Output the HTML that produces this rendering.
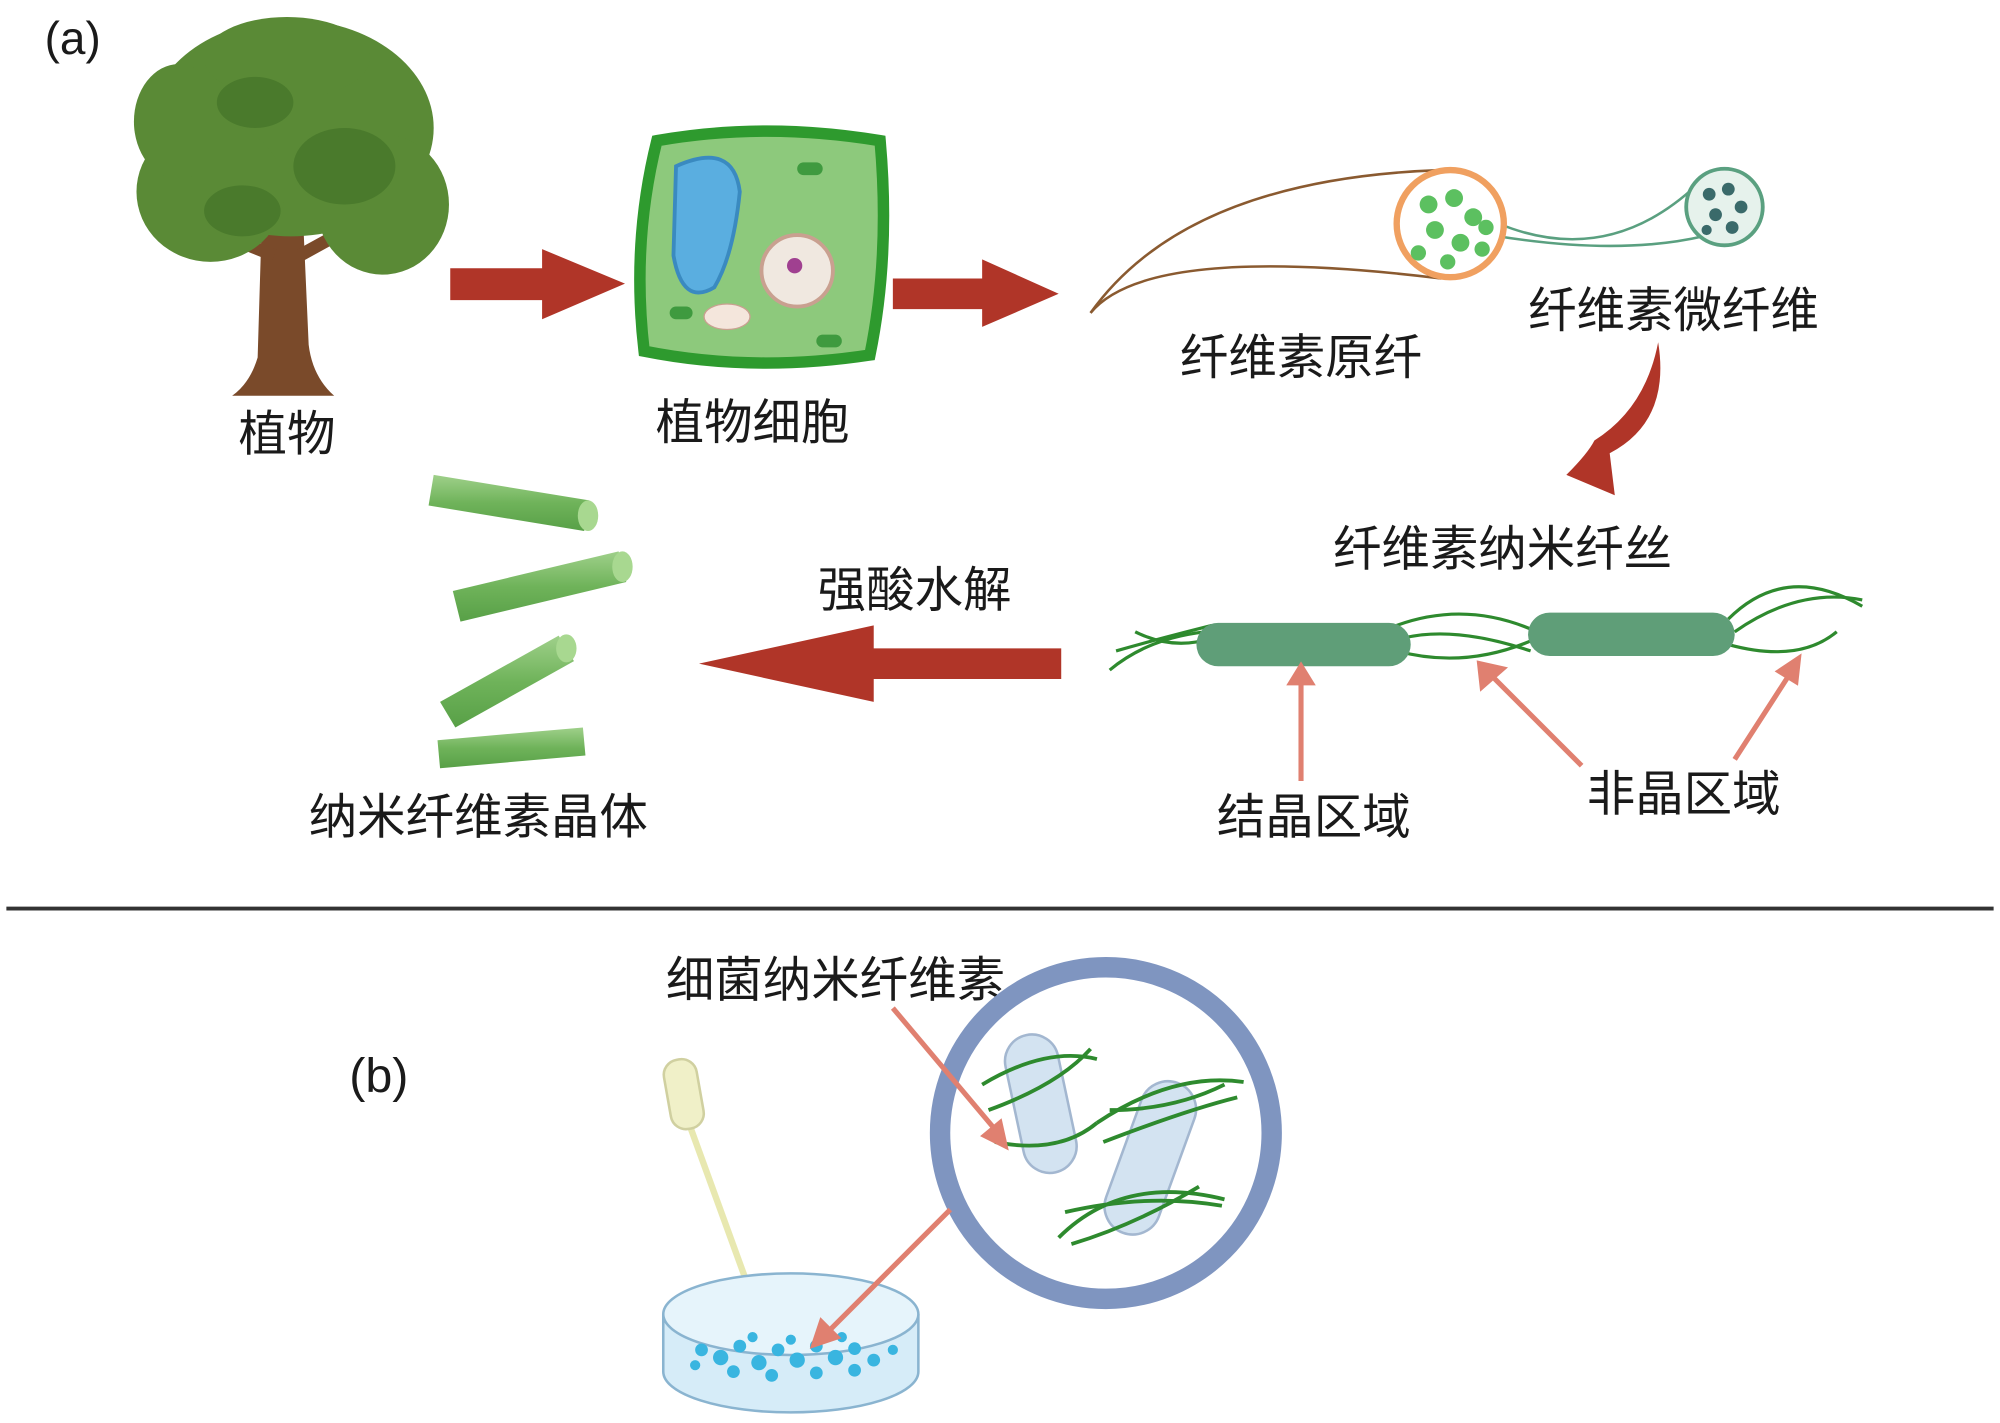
<!DOCTYPE html>
<html><head><meta charset="utf-8"><style>
html,body{margin:0;padding:0;background:#fff}
svg{display:block}
text{font-family:"Liberation Sans","Noto Sans CJK SC",sans-serif;fill:#1a1a1a}
</style></head><body>
<svg width="2000" height="1423" viewBox="0 0 1568 1115" xmlns="http://www.w3.org/2000/svg">
<defs>
<linearGradient id="rod" x1="0" y1="0" x2="0" y2="1"><stop offset="0" stop-color="#9fd08a"/><stop offset="0.5" stop-color="#6fb35a"/><stop offset="1" stop-color="#58a047"/></linearGradient>
</defs>
<text x="35" y="42" font-size="36">(a)</text>
<!-- tree -->
<path d="M205 180 L202 280 Q196 300 182 310 L262 310 Q245 295 242 270 L238 180 Z" fill="#7a4a2a"/>
<path d="M215 200 L170 182 M235 200 L275 178" stroke="#7a4a2a" stroke-width="10"/>
<g fill="#5a8a36">
<ellipse cx="228" cy="100" rx="112" ry="85"/>
<ellipse cx="165" cy="150" rx="58" ry="55"/>
<ellipse cx="300" cy="160" rx="52" ry="55"/>
<ellipse cx="225" cy="45" rx="65" ry="32"/>
<ellipse cx="140" cy="95" rx="35" ry="45"/>
</g>
<g fill="#4a7a2c"><ellipse cx="270" cy="130" rx="40" ry="30"/><ellipse cx="190" cy="165" rx="30" ry="20"/><ellipse cx="200" cy="80" rx="30" ry="20"/></g>
<text x="225" y="353" font-size="38" text-anchor="middle">植物</text>
<!-- arrow 1 -->
<path d="M353 210 L425 210 L425 195 L490 222 L425 250 L425 235 L353 235 Z" fill="#b03528"/>
<!-- cell -->
<path d="M515 110 Q600 95 690 110 Q698 200 682 278 Q590 292 505 275 Q495 190 515 110 Z" fill="#8dc97c" stroke="#2e9a2e" stroke-width="9"/>
<path d="M530 130 Q575 110 580 150 Q575 200 560 225 Q535 240 528 200 Z" fill="#5aaee0" stroke="#3a8ac0" stroke-width="3"/>
<circle cx="625" cy="212" r="28" fill="#f0e8e0" stroke="#c9a090" stroke-width="3"/>
<circle cx="623" cy="208" r="6" fill="#a04090"/>
<ellipse cx="570" cy="248" rx="18" ry="10" fill="#f4e6dc" stroke="#c9a090"/>
<rect x="625" y="127" width="20" height="10" rx="5" fill="#3f9a3f"/>
<rect x="640" y="262" width="20" height="10" rx="5" fill="#3f9a3f"/>
<rect x="525" y="240" width="18" height="10" rx="5" fill="#3f9a3f"/>
<text x="590" y="344" font-size="38" text-anchor="middle">植物细胞</text>
<!-- arrow 2 -->
<path d="M700 218 L770 218 L770 203 L830 230 L770 256 L770 242 L700 242 Z" fill="#b03528"/>
<!-- fibril -->
<path d="M855 245 Q930 140 1130 133" fill="none" stroke="#8a5a30" stroke-width="2"/>
<path d="M855 245 Q900 190 1130 218" fill="none" stroke="#8a5a30" stroke-width="2"/>
<path d="M1175 175 Q1260 210 1330 145" fill="none" stroke="#5aa080" stroke-width="2"/>
<path d="M1175 185 Q1270 200 1335 185" fill="none" stroke="#5aa080" stroke-width="2"/>
<circle cx="1137" cy="175" r="42" fill="#fff" stroke="#f0a060" stroke-width="5"/>
<g fill="#5cc060"><circle cx="1120" cy="160" r="7"/><circle cx="1140" cy="155" r="7"/><circle cx="1155" cy="170" r="7"/><circle cx="1125" cy="180" r="7"/><circle cx="1145" cy="190" r="7"/><circle cx="1112" cy="198" r="6"/><circle cx="1162" cy="195" r="6"/><circle cx="1135" cy="205" r="6"/><circle cx="1165" cy="178" r="6"/></g>
<circle cx="1352" cy="162" r="30" fill="#e6f2ec" stroke="#5aa080" stroke-width="3"/>
<g fill="#3a6a6a"><circle cx="1340" cy="152" r="5"/><circle cx="1355" cy="148" r="5"/><circle cx="1365" cy="162" r="5"/><circle cx="1345" cy="168" r="5"/><circle cx="1358" cy="178" r="5"/><circle cx="1338" cy="180" r="4"/></g>
<text x="1020" y="293" font-size="38" text-anchor="middle">纤维素原纤</text>
<text x="1312" y="256" font-size="38" text-anchor="middle">纤维素微纤维</text>
<!-- curved arrow -->
<path d="M1300 268 Q1310 330 1262 355 L1266 388 L1228 372 Q1245 355 1250 345 Q1290 320 1300 268 Z" fill="#b03528"/>
<text x="1178" y="443" font-size="38" text-anchor="middle">纤维素纳米纤丝</text>
<!-- nanofibril -->
<g fill="none" stroke="#2e8a2e" stroke-width="2.5">
<path d="M870 525 Q900 500 945 495"/><path d="M875 510 Q910 500 950 490"/><path d="M890 495 Q920 510 950 500"/>
<path d="M1095 490 Q1150 470 1205 495"/><path d="M1095 510 Q1150 525 1205 500"/><path d="M1100 500 Q1140 490 1200 510"/>
<path d="M1355 485 Q1400 440 1460 475"/><path d="M1355 505 Q1410 520 1440 495"/><path d="M1360 495 Q1410 460 1460 470"/>
</g>
<rect x="938" y="488" width="168" height="34" rx="17" fill="#5f9e78"/>
<rect x="1198" y="480" width="162" height="34" rx="17" fill="#5f9e78"/>
<g stroke="#e08070" stroke-width="4" fill="#e08070">
<line x1="1020" y1="612" x2="1020" y2="535"/><path d="M1012 535 L1020 522 L1028 535 Z"/>
<line x1="1240" y1="600" x2="1170" y2="530"/><path d="M1162 538 L1160 520 L1178 524 Z"/>
<line x1="1360" y1="595" x2="1402" y2="530"/><path d="M1395 526 L1410 516 L1408 534 Z"/>
</g>
<text x="1030" y="653" font-size="38" text-anchor="middle">结晶区域</text>
<text x="1320" y="635" font-size="38" text-anchor="middle">非晶区域</text>
<text x="717" y="475" font-size="38" text-anchor="middle">强酸水解</text>
<path d="M832 508 L685 508 L685 490 L548 520 L685 550 L685 532 L832 532 Z" fill="#b03528"/>
<!-- rods -->
<g>
<path d="M340 372 L462 392 L458 416 L336 396 Z" fill="url(#rod)"/><ellipse cx="461" cy="404" rx="8" ry="12" fill="#a8d890"/>
<path d="M355 463 L485 432 L491 456 L361 487 Z" fill="url(#rod)"/><ellipse cx="488" cy="444" rx="8" ry="12" fill="#a8d890"/>
<path d="M345 550 L438 498 L450 518 L357 570 Z" fill="url(#rod)"/><ellipse cx="444" cy="508" rx="8" ry="11" fill="#a8d890"/>
<path d="M343 580 L457 570 L459 592 L345 602 Z" fill="url(#rod)"/>
</g>
<text x="375" y="653" font-size="38" text-anchor="middle">纳米纤维素晶体</text>
<line x1="5" y1="712" x2="1563" y2="712" stroke="#333" stroke-width="3"/>
<!-- (b) -->
<text x="297" y="856" font-size="38" text-anchor="middle">(b)</text>
<text x="655" y="781" font-size="38" text-anchor="middle">细菌纳米纤维素</text>
<!-- pipette -->
<line x1="540" y1="880" x2="600" y2="1045" stroke="#e8e8b0" stroke-width="5"/>
<rect x="523" y="830" width="26" height="55" rx="12" fill="#f0f0c8" stroke="#d0d0a0" stroke-width="2" transform="rotate(-10 536 857)"/>
<!-- dish -->
<path d="M520 1030 L520 1075 A100 32 0 0 0 720 1075 L720 1030" fill="#d6ecf8" stroke="#8ab4d0" stroke-width="2"/>
<ellipse cx="620" cy="1030" rx="100" ry="32" fill="#e6f4fb" stroke="#8ab4d0" stroke-width="2"/>
<g fill="#39b5e0">
<circle cx="550" cy="1058" r="5"/><circle cx="565" cy="1064" r="6"/><circle cx="580" cy="1055" r="5"/><circle cx="595" cy="1068" r="6"/><circle cx="610" cy="1058" r="5"/><circle cx="625" cy="1066" r="6"/><circle cx="640" cy="1055" r="5"/><circle cx="655" cy="1064" r="6"/><circle cx="670" cy="1057" r="5"/><circle cx="685" cy="1066" r="5"/><circle cx="700" cy="1058" r="4"/><circle cx="575" cy="1075" r="5"/><circle cx="605" cy="1078" r="5"/><circle cx="640" cy="1076" r="5"/><circle cx="670" cy="1074" r="5"/><circle cx="545" cy="1070" r="4"/><circle cx="620" cy="1050" r="4"/><circle cx="590" cy="1048" r="4"/><circle cx="660" cy="1048" r="4"/>
</g>
<!-- circle -->
<circle cx="867" cy="888" r="130" fill="#fff" stroke="#7f95c0" stroke-width="16"/>
<g fill="#cfe0f0" stroke="#9ab0cc" stroke-width="2" opacity="0.9">
<rect x="795" y="810" width="42" height="110" rx="21" transform="rotate(-12 816 865)"/>
<rect x="880" y="845" width="44" height="125" rx="22" transform="rotate(20 902 907)"/>
</g>
<g fill="none" stroke="#2e8a2e" stroke-width="3">
<path d="M770 850 Q820 820 860 830"/><path d="M775 870 Q830 850 855 822"/><path d="M780 895 Q830 905 860 880"/>
<path d="M860 880 Q920 840 975 848"/><path d="M865 895 Q930 870 970 860"/><path d="M870 870 Q920 870 960 850"/>
<path d="M830 970 Q880 920 960 940"/><path d="M835 950 Q900 935 958 945"/><path d="M840 975 Q890 960 940 930"/>
</g>
<g stroke="#e08070" stroke-width="4" fill="#e08070">
<line x1="700" y1="790" x2="780" y2="885"/><path d="M772 890 L788 898 L784 880 Z"/>
<line x1="745" y1="948" x2="648" y2="1045"/><path d="M644 1036 L638 1054 L656 1048 Z"/>
</g>
</svg>
</body></html>
